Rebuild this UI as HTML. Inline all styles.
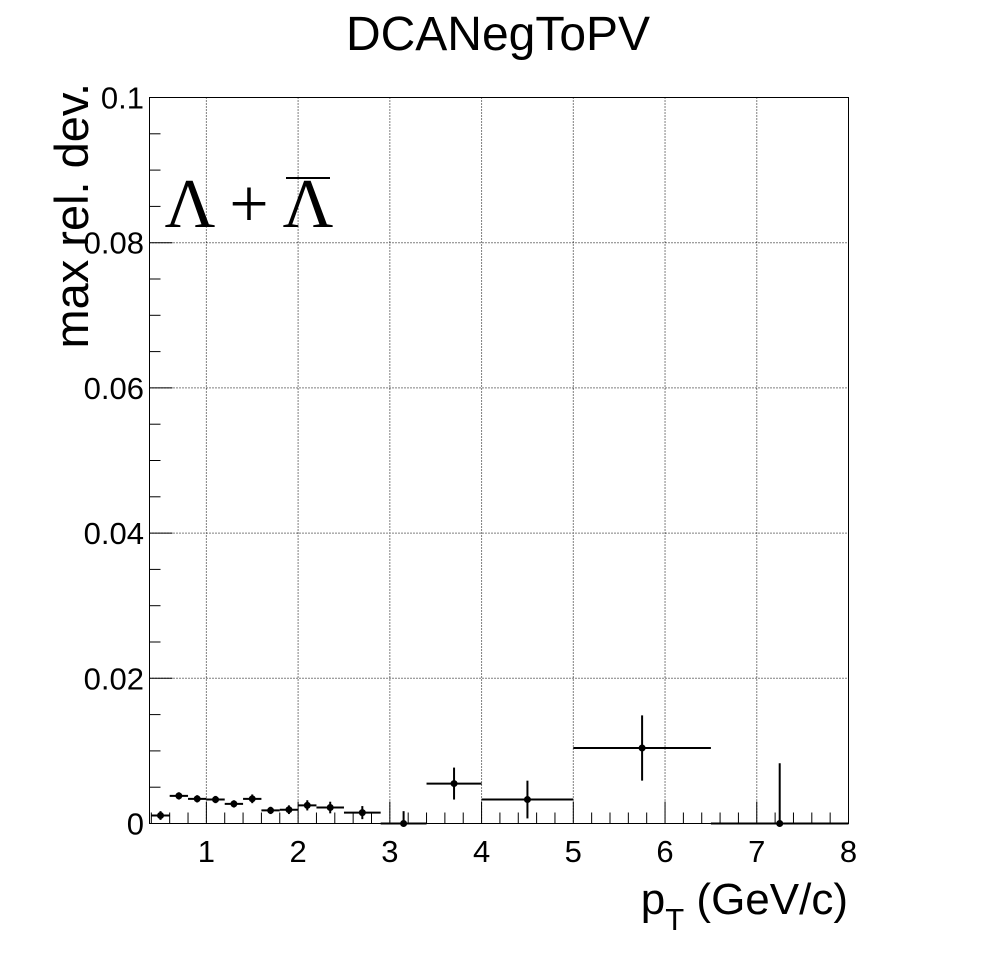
<!DOCTYPE html>
<html><head><meta charset="utf-8"><style>
html,body{margin:0;padding:0;background:#fff;}
svg{display:block;font-family:"Liberation Sans",sans-serif;}
</style></head><body>
<svg id="chart" width="998" height="973" viewBox="0 0 998 973">
<rect x="0" y="0" width="998" height="973" fill="#fff"/>
<text x="498" y="50" font-size="48" text-anchor="middle">DCANegToPV</text>
<g id="grid"></g>
<g id="axes"></g>
<g id="marks"></g>
<rect x="149.5" y="97.5" width="699" height="726" fill="none" stroke="#000" stroke-width="1"/>
<text transform="translate(88,83) rotate(-90)" font-size="47" text-anchor="end">max rel. dev.</text>
<text x="848" y="914" font-size="44" text-anchor="end">p<tspan font-size="31" dy="16">T</tspan><tspan dy="-16"> (GeV/c)</tspan></text>
<g>
<text x="190" y="227" font-family="Liberation Serif, serif" font-size="70" text-anchor="middle">Λ</text>
<text x="249" y="227" font-family="Liberation Serif, serif" font-size="70" text-anchor="middle">+</text>
<text x="308" y="227" font-family="Liberation Serif, serif" font-size="70" text-anchor="middle">Λ</text>
<line x1="286" y1="178" x2="330" y2="178" stroke="#000" stroke-width="2"/>
</g>
</svg>
<script>
const xCenters=[0.5,0.7,0.9,1.1,1.3,1.5,1.7,1.9,2.1,2.35,2.7,3.15,3.7,4.5,5.75,7.25];
const xLows=[0.4,0.6,0.8,1.0,1.2,1.4,1.6,1.8,2.0,2.2,2.5,2.9,3.4,4.0,5.0,6.5];
const xHighs=[0.6,0.8,1.0,1.2,1.4,1.6,1.8,2.0,2.2,2.5,2.9,3.4,4.0,5.0,6.5,8.0];
const yValues=[0.0011,0.0038,0.0034,0.0033,0.0027,0.0034,0.0018,0.0019,0.0025,0.0022,0.0015,0.0,0.0055,0.0033,0.0104,0.0];
const yErrors=[0.0006,0.0005,0.0005,0.0005,0.0005,0.0006,0.0005,0.0006,0.0007,0.0008,0.0009,0.0017,0.0022,0.0026,0.0045,0.0083];
const xTicks=[1,2,3,4,5,6,7,8];
const yTicks=[0,0.02,0.04,0.06,0.08,0.1];
const yTickLabels=["0","0.02","0.04","0.06","0.08","0.1"];
const xMin=0.38,xMax=8,yMin=0,yMax=0.1;
const L=149.5,R=848.5,T=97.5,B=823.5;
function sx(v){return L+(v-xMin)/(xMax-xMin)*(R-L);}
function sy(v){return B-(v-yMin)/(yMax-yMin)*(B-T);}
const NS="http://www.w3.org/2000/svg";
function mk(tag,attrs,parent){const e=document.createElementNS(NS,tag);for(const k in attrs)e.setAttribute(k,attrs[k]);parent.appendChild(e);return e;}
const grid=document.getElementById('grid'),axes=document.getElementById('axes'),marks=document.getElementById('marks');
xTicks.forEach(t=>{
 const x=sx(t);
 if(t<xMax){const g=mk('line',{x1:x,y1:T,x2:x,y2:B,stroke:'#000','stroke-width':1,'stroke-dasharray':'1,2'},grid);
 
 }
 const tk=mk('line',{x1:x,y1:B,x2:x,y2:B-22,stroke:'#000'},axes);
 
 
 const lb=mk('text',{x:x,y:862,'font-size':31,'text-anchor':'middle'},axes);
 lb.textContent=String(t);
 
 
});
for(let v=0.4;v<xMax-0.01;v+=0.2){
 if(Math.abs(v-Math.round(v))<0.01)continue;
 const x=sx(v);
 const m=mk('line',{x1:x,y1:B,x2:x,y2:B-11,stroke:'#000'},axes);
 
 
}
yTicks.forEach((t,i)=>{
 const y=sy(t);
 if(t>yMin&&t<yMax){const g=mk('line',{x1:L,y1:y,x2:R,y2:y,stroke:'#000','stroke-width':1,'stroke-dasharray':'1,2'},grid);
 
 }
 const tk=mk('line',{x1:L,y1:y,x2:L+23,y2:y,stroke:'#000'},axes);
 
 
 const lb=mk('text',{x:144,y:y+11,'font-size':31,'text-anchor':'end'},axes);
 lb.textContent=yTickLabels[i];
 
 
});
for(let k=1;k<20;k++){
 if(k%4===0)continue;
 const y=sy(k*0.005);
 const m=mk('line',{x1:L,y1:y,x2:L+11,y2:y,stroke:'#000'},axes);
 
 
}
xCenters.forEach((c,i)=>{
 const g=mk('g',{},marks);
 
 
 const y=sy(yValues[i]);
 mk('line',{x1:sx(xLows[i]),y1:y,x2:sx(xHighs[i]),y2:y,stroke:'#000','stroke-width':2},g);
 mk('line',{x1:sx(c),y1:sy(yValues[i]+yErrors[i]),x2:sx(c),y2:Math.min(B,sy(yValues[i]-yErrors[i])),stroke:'#000','stroke-width':2},g);
 mk('circle',{cx:sx(c),cy:y,r:3.5,fill:'#000'},g);
});
</script>
</body></html>
